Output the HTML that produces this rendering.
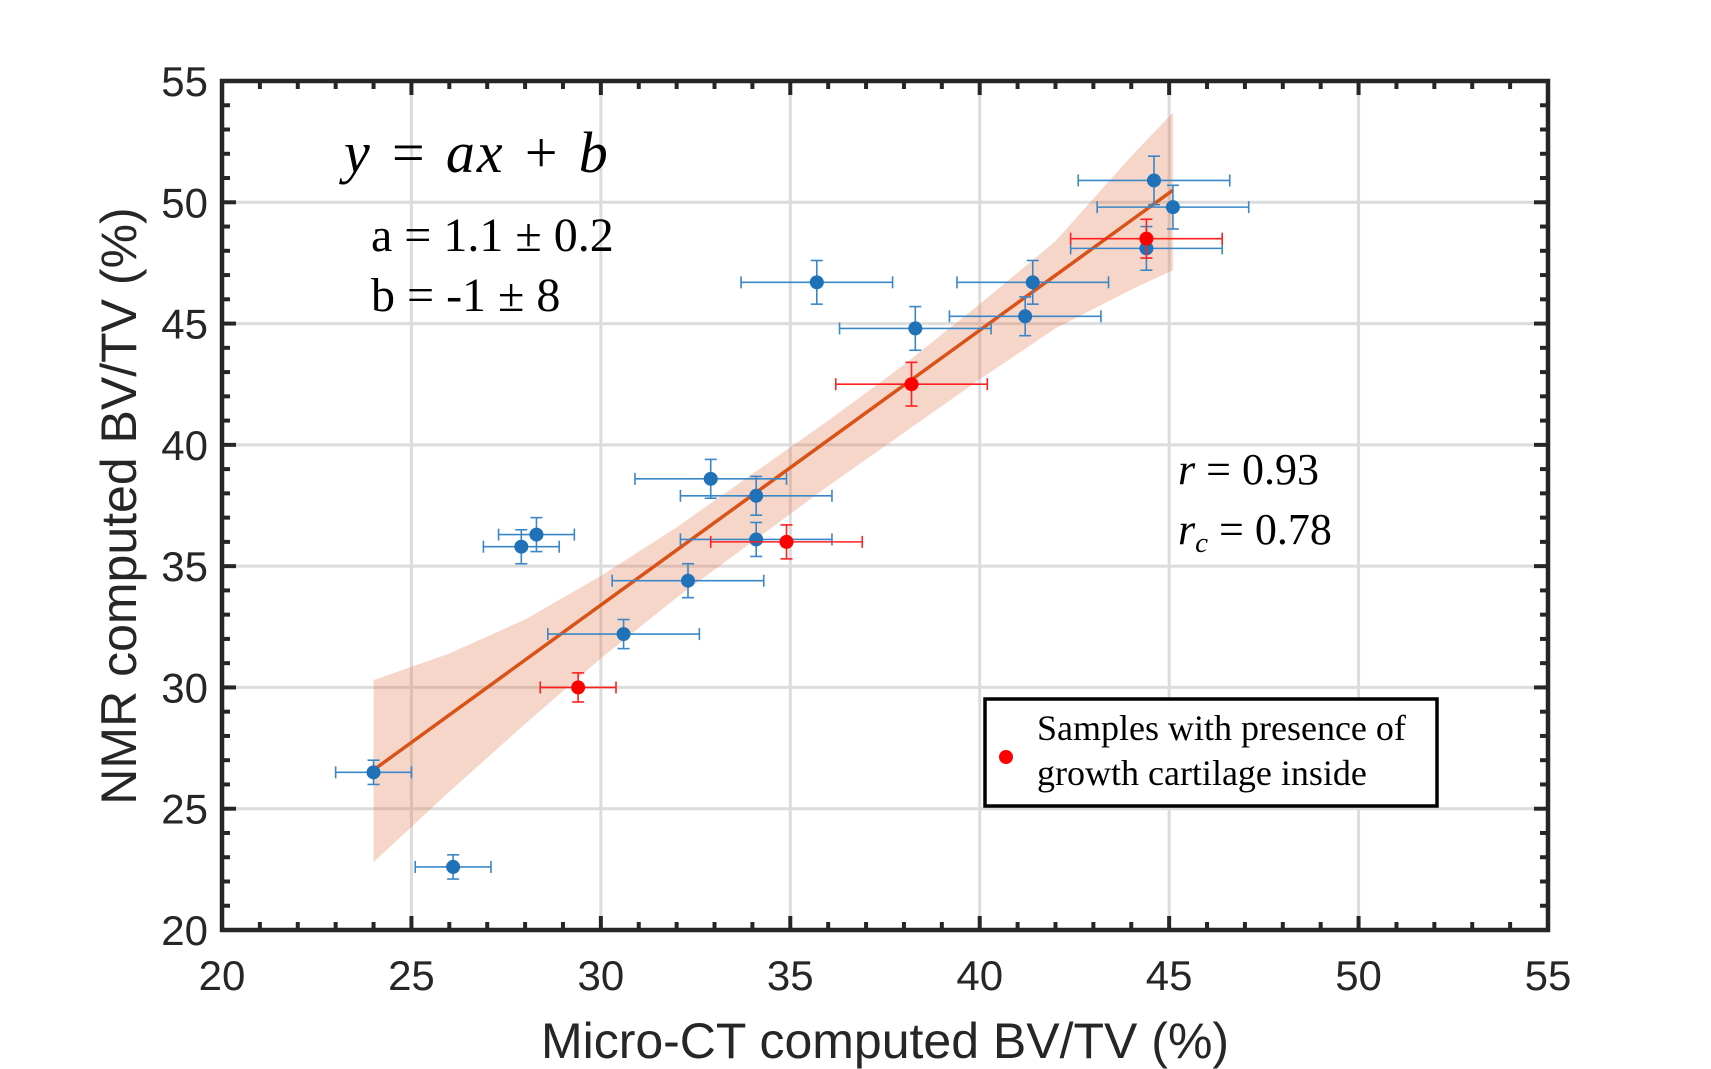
<!DOCTYPE html>
<html><head><meta charset="utf-8"><style>
body{margin:0;background:#fff}
svg{display:block}
</style></head><body>
<svg id="c" width="1711" height="1069" xmlns="http://www.w3.org/2000/svg"></svg>
<script>
const blueX=[44.6,45.1,44.4,41.4,41.2,35.7,38.3,32.9,34.1,34.1,28.3,27.9,32.3,30.6,24.0,26.1];
const blueY=[50.9,49.8,48.1,46.7,45.3,46.7,44.8,38.6,37.9,36.1,36.3,35.8,34.4,32.2,26.5,22.6];
const blueXErr=[2,2,2,2,2,2,2,2,2,2,1,1,2,2,1,1];
const blueYErr=[1,0.9,0.9,0.9,0.8,0.9,0.9,0.8,0.8,0.7,0.7,0.7,0.7,0.6,0.5,0.5];
const redX=[44.4,38.2,34.9,29.4];
const redY=[48.5,42.5,36.0,30.0];
const redXErr=[2,2,2,1];
const redYErr=[0.8,0.9,0.7,0.6];
const fitX=[24,45.1];
const fitY=[26.6,50.5];
const bandX=[24,26,28,30,32,34,36,38,40,42,44,45.1];
const bandLo=[22.8,25.7,28.5,31.2,33.7,36.0,38.3,40.5,42.7,44.8,46.4,47.2];
const bandHi=[30.3,31.4,32.8,34.6,36.6,38.8,41.0,43.3,45.8,48.4,51.9,53.7];
const xTicks=[20,25,30,35,40,45,50,55];
const yTicks=[20,25,30,35,40,45,50,55];

const NS="http://www.w3.org/2000/svg";
const svg=document.getElementById('c');
const L=222,R=1548,T=81,B=930;
const sx=v=>L+(v-20)/35*(R-L);
const sy=v=>B-(v-20)/35*(B-T);
function el(tag,attrs,parent){const e=document.createElementNS(NS,tag);for(const k in attrs)e.setAttribute(k,attrs[k]);(parent||svg).appendChild(e);return e;}

const grid=el('g',{});


xTicks.forEach(t=>{if(t>20&&t<55){el('line',{x1:sx(t),x2:sx(t),y1:T,y2:B,stroke:'#dcdcdc','stroke-width':3},grid);}});
yTicks.forEach(t=>{if(t>20&&t<55){el('line',{x1:L,x2:R,y1:sy(t),y2:sy(t),stroke:'#dcdcdc','stroke-width':3},grid);}});

let pts=bandX.map((x,i)=>sx(x)+','+sy(bandHi[i]));
pts=pts.concat(bandX.slice().reverse().map((x,i)=>sx(x)+','+sy(bandLo[bandLo.length-1-i])));
const band=el('polygon',{points:pts.join(' '),fill:'rgba(230,120,80,0.3)'});



const fit=el('line',{x1:sx(fitX[0]),y1:sy(fitY[0]),x2:sx(fitX[1]),y2:sy(fitY[1]),stroke:'#D95319','stroke-width':3.5});



function series(X,Y,XE,YE,col,ecol,name){
  const g=el('g',{});
  
  
  X.forEach((x,i)=>{
    const cx=sx(x),cy=sy(Y[i]),x1=sx(x-XE[i]),x2=sx(x+XE[i]),y1=sy(Y[i]-YE[i]),y2=sy(Y[i]+YE[i]);
    el('line',{x1:x1,x2:x2,y1:cy,y2:cy,stroke:ecol,'stroke-width':1.6},g);
    el('line',{x1:x1,x2:x1,y1:cy-6,y2:cy+6,stroke:ecol,'stroke-width':1.6},g);
    el('line',{x1:x2,x2:x2,y1:cy-6,y2:cy+6,stroke:ecol,'stroke-width':1.6},g);
    el('line',{x1:cx,x2:cx,y1:y1,y2:y2,stroke:ecol,'stroke-width':1.6},g);
    el('line',{x1:cx-6,x2:cx+6,y1:y1,y2:y1,stroke:ecol,'stroke-width':1.6},g);
    el('line',{x1:cx-6,x2:cx+6,y1:y2,y2:y2,stroke:ecol,'stroke-width':1.6},g);
    const c=el('circle',{cx:cx,cy:cy,r:7,fill:col},g);
    
    
  });
}
series(blueX,blueY,blueXErr,blueYErr,'#1f72b8','#3a87c8','blue-samples');
series(redX,redY,redXErr,redYErr,'#ff0000','#ff2020','red-samples');

const ax=el('g',{});


for(let v=20;v<=55;v++){
  const major=v%5===0, len=major?14:8;
  el('line',{x1:sx(v),x2:sx(v),y1:B,y2:B-len,stroke:'#262626','stroke-width':4},ax);
  el('line',{x1:sx(v),x2:sx(v),y1:T,y2:T+len,stroke:'#262626','stroke-width':4},ax);
  el('line',{x1:L,x2:L+len,y1:sy(v),y2:sy(v),stroke:'#262626','stroke-width':4},ax);
  el('line',{x1:R,x2:R-len,y1:sy(v),y2:sy(v),stroke:'#262626','stroke-width':4},ax);
}
el('rect',{x:L,y:T,width:R-L,height:B-T,fill:'none',stroke:'#262626','stroke-width':4.5},ax);
xTicks.forEach(t=>{const tx=el('text',{x:sx(t),y:B+60,'text-anchor':'middle','font-family':'Liberation Sans, sans-serif','font-size':42,fill:'#262626'},ax);tx.textContent=t;
 });
yTicks.forEach(t=>{const tx=el('text',{x:L-14,y:sy(t)+15,'text-anchor':'end','font-family':'Liberation Sans, sans-serif','font-size':42,fill:'#262626'},ax);tx.textContent=t;
 });
</script>
<svg width="1711" height="1069" style="position:absolute;left:0;top:0" xmlns="http://www.w3.org/2000/svg">
<text x="885" y="1058" text-anchor="middle" font-family="Liberation Sans, sans-serif" font-size="50" fill="#262626">Micro-CT computed BV/TV (%)</text>
<text transform="translate(136,506) rotate(-90)" text-anchor="middle" font-family="Liberation Sans, sans-serif" font-size="50" fill="#262626">NMR computed BV/TV (%)</text>
<text x="344" y="172" font-family="Liberation Serif, serif" font-style="italic" font-size="58" letter-spacing="2">y = ax + b</text>
<text x="371" y="251" font-family="Liberation Serif, serif" font-size="48">a = 1.1 ± 0.2</text>
<text x="371" y="311" font-family="Liberation Serif, serif" font-size="48">b = -1 ± 8</text>
<text x="1178" y="484" font-family="Liberation Serif, serif" font-size="44"><tspan font-style="italic">r</tspan> = 0.93</text>
<text x="1178" y="544" font-family="Liberation Serif, serif" font-size="44"><tspan font-style="italic">r</tspan><tspan font-style="italic" font-size="29" dy="8">c</tspan><tspan dy="-8"> = 0.78</tspan></text>
<g>
<rect x="985" y="699" width="452" height="107" fill="#fff" stroke="#000" stroke-width="3.5"/>
<circle cx="1006" cy="757" r="7" fill="#ff0000"/>
<text x="1037" y="740" font-family="Liberation Serif, serif" font-size="36">Samples with presence of</text>
<text x="1037" y="785" font-family="Liberation Serif, serif" font-size="36">growth cartilage inside</text>
</g>
</svg>
</body></html>
